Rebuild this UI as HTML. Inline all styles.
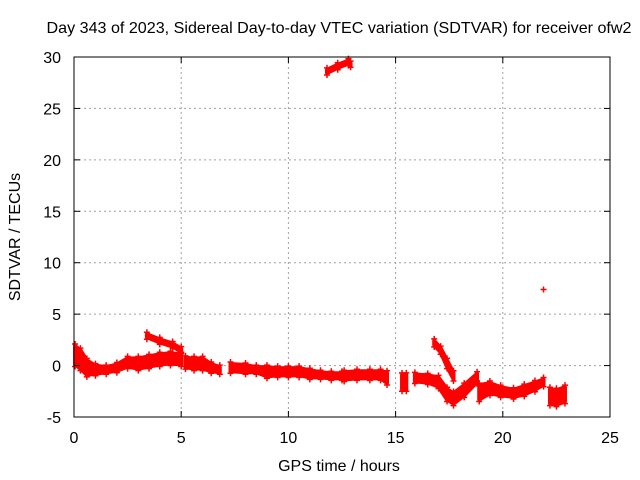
<!DOCTYPE html>
<html><head><meta charset="utf-8"><style>
body{margin:0;background:#fff;}
svg{display:block;font-family:"Liberation Sans",sans-serif;}
</style></head><body>
<svg id="c" width="640" height="480">
<text x="339" y="33" text-anchor="middle" font-size="16" textLength="585" lengthAdjust="spacingAndGlyphs">Day 343 of 2023, Sidereal Day-to-day VTEC variation (SDTVAR) for receiver ofw2</text>
<text x="339" y="471" text-anchor="middle" font-size="16">GPS time / hours</text>
<text transform="translate(20,237) rotate(-90)" text-anchor="middle" font-size="16">SDTVAR / TECUs</text>
<g id="grid"></g><g id="marks"></g><g id="axes"></g>
</svg>
<script>
const xTicks=[0,5,10,15,20,25];
const yTicks=[-5,0,5,10,15,20,25,30];
// each segment: hours, centre values, half-widths (TECU)
const seg1H=[0.05,0.3,0.6,1.0,1.5,2.0,2.5,3.0,3.5,4.0,4.5,5.0];
const seg1V=[1.0,0.6,-0.2,-0.4,-0.4,-0.2,0.3,0.2,0.4,0.6,0.7,0.6];
const seg1W=[0.9,0.9,0.7,0.4,0.25,0.3,0.4,0.5,0.5,0.5,0.5,0.5];
const seg2H=[3.4,4.0,4.6,5.0];
const seg2V=[2.9,2.4,2.0,1.5];
const seg2W=[0.15,0.15,0.15,0.15];
const seg3H=[5.2,5.6,6.0,6.4,6.8];
const seg3V=[0.3,0.2,0.2,-0.2,-0.4];
const seg3W=[0.45,0.5,0.5,0.35,0.25];
const seg4H=[7.3,8.0,8.5,9.0,9.5,10.0,10.5,11.0,11.5,12.0,12.5];
const seg4V=[-0.2,-0.3,-0.4,-0.6,-0.6,-0.6,-0.6,-0.8,-0.9,-1.0,-1.0];
const seg4W=[0.35,0.35,0.25,0.45,0.35,0.35,0.35,0.35,0.25,0.25,0.25];
const seg5H=[12.6,13.2,13.8,14.3,14.6];
const seg5V=[-1.0,-0.9,-0.9,-0.9,-1.2];
const seg5W=[0.35,0.35,0.35,0.35,0.5];
const seg6H=[15.3,15.5];
const seg6V=[-1.6,-1.6];
const seg6W=[0.7,0.7];
const seg7H=[15.9,16.5,17.0,17.4,17.7,18.2,18.8];
const seg7V=[-1.2,-1.3,-1.6,-2.8,-3.2,-2.4,-1.2];
const seg7W=[0.35,0.35,0.45,0.5,0.5,0.5,0.4];
const seg8H=[16.8,17.1,17.4,17.7];
const seg8V=[2.2,1.5,0.2,-1.0];
const seg8W=[0.2,0.2,0.3,0.3];
const seg9H=[18.9,19.4,19.9,20.5,21.0,21.5,21.9];
const seg9V=[-2.6,-2.2,-2.5,-2.7,-2.4,-2.0,-1.6];
const seg9W=[0.7,0.5,0.4,0.35,0.4,0.35,0.25];
const seg10H=[22.2,22.5,22.9];
const seg10V=[-3.0,-3.1,-2.8];
const seg10W=[0.7,0.7,0.7];
const seg11H=[11.8,12.3,12.8,12.9];
const seg11V=[28.6,29.1,29.5,29.3];
const seg11W=[0.15,0.15,0.15,0.1];
const outH=[21.9];
const outV=[7.4];
const segs=[[seg1H,seg1V,seg1W],[seg2H,seg2V,seg2W],[seg3H,seg3V,seg3W],[seg4H,seg4V,seg4W],[seg5H,seg5V,seg5W],[seg6H,seg6V,seg6W],[seg7H,seg7V,seg7W],[seg8H,seg8V,seg8W],[seg9H,seg9V,seg9W],[seg10H,seg10V,seg10W],[seg11H,seg11V,seg11W]];
const L=74,R=610,T=57,B=417;
const xs=h=>L+(h-0)/25*(R-L);
const ys=v=>B-(v+5)/35*(B-T);
const NS="http://www.w3.org/2000/svg";
function mk(t,a,p){const e=document.createElementNS(NS,t);for(const k in a)e.setAttribute(k,a[k]);p.appendChild(e);return e;}
const grid=document.getElementById('grid'),axes=document.getElementById('axes'),marks=document.getElementById('marks');
xTicks.forEach(t=>{const x=xs(t);
 if(t>0&&t<25){const g=mk('line',{x1:x,x2:x,y1:T,y2:B,stroke:'#a0a0a0','stroke-dasharray':'2,3'},grid);
 
 }
 mk('line',{x1:x,x2:x,y1:B,y2:B-6,stroke:'#000'},axes);mk('line',{x1:x,x2:x,y1:T,y2:T+6,stroke:'#000'},axes);
 const lb=mk('text',{x:x,y:443,'text-anchor':'middle','font-size':16},axes);lb.textContent=t;
 
 });
yTicks.forEach(t=>{const y=ys(t);
 if(t>-5&&t<30){const g=mk('line',{x1:L,x2:R,y1:y,y2:y,stroke:'#a0a0a0','stroke-dasharray':'2,3'},grid);
 
 }
 mk('line',{x1:L,x2:L+6,y1:y,y2:y,stroke:'#000'},axes);mk('line',{x1:R,x2:R-6,y1:y,y2:y,stroke:'#000'},axes);
 const lb=mk('text',{x:61,y:y+6,'text-anchor':'end','font-size':16},axes);lb.textContent=t;
 
 });
const fr=mk('rect',{x:L,y:T,width:R-L,height:B-T,fill:'none',stroke:'#000'},axes);


function plus(x,y){const p=mk('path',{d:`M${x-3},${y}h6M${x},${y-3}v6`,stroke:'#f00','stroke-width':1.5},marks);
 
 }
segs.forEach(([H,V,W])=>{
 const top=H.map((h,i)=>xs(h)+','+ys(V[i]+W[i]));
 const bot=H.map((h,i)=>xs(h)+','+ys(V[i]-W[i])).reverse();
 const pg=mk('polygon',{points:top.concat(bot).join(' '),fill:'#f00',stroke:'#f00','stroke-width':4,'stroke-linejoin':'round'},marks);
 
 
 H.forEach((h,i)=>{plus(xs(h),ys(V[i]+W[i])-2);plus(xs(h),ys(V[i]-W[i])+2);});
});
outH.forEach((h,i)=>plus(xs(h),ys(outV[i])));
</script>
</body></html>
